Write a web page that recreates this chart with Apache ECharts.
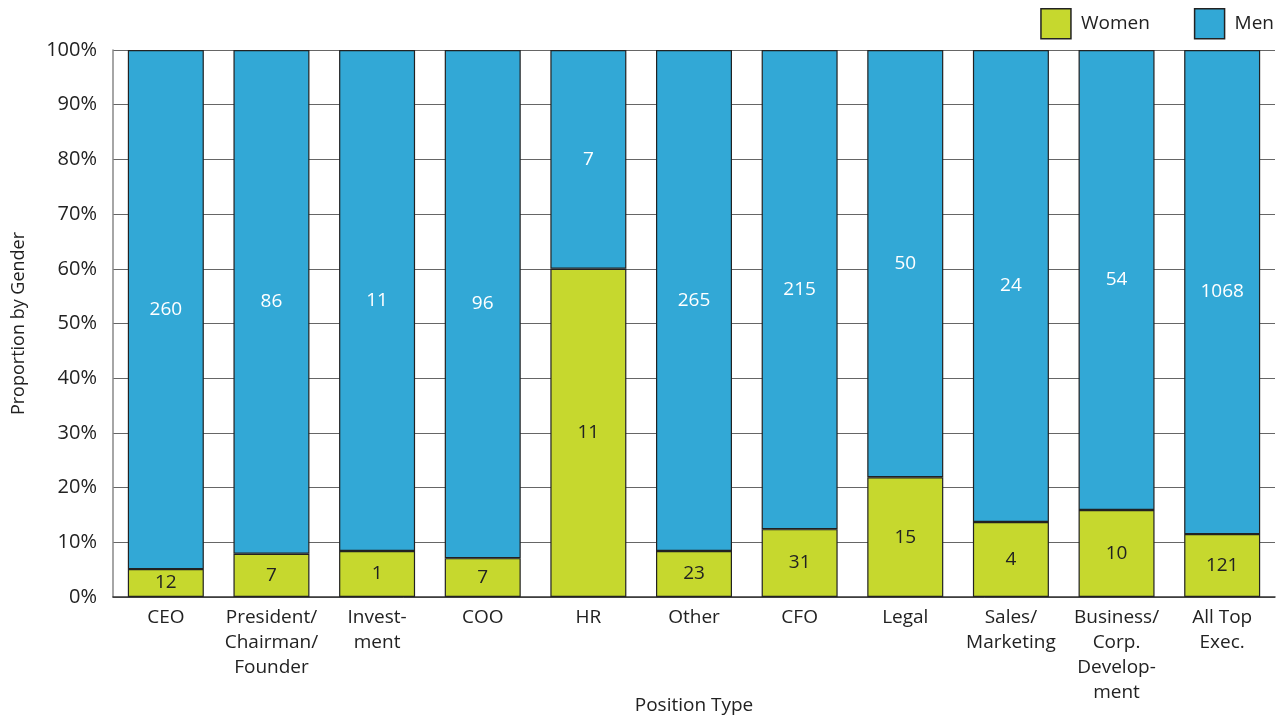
<!DOCTYPE html>
<html>
<head>
<meta charset="utf-8">
<script src="https://cdn.jsdelivr.net/npm/echarts@6/dist/echarts.min.js"></script>
<style>
  html, body { margin: 0; padding: 0; background: #fff; }
  #chart { width: 1283px; height: 719px; }
</style>
</head>
<body>
<div id="chart"></div>
<script>
// categories (line breaks as in the original)
const positions = [
  'CEO', 'President/\nChairman/\nFounder', 'Invest-\nment', 'COO', 'HR', 'Other',
  'CFO', 'Legal', 'Sales/\nMarketing', 'Business/\nCorp.\nDevelop-\nment', 'All Top\nExec.'
];

// share of each gender in %
const womenShare = [5.1, 7.9, 8.4, 7.1, 60.0, 8.4, 12.4, 21.9, 13.7, 15.9, 11.5];
const menShare   = [94.9, 92.1, 91.6, 92.9, 40.0, 91.6, 87.6, 78.1, 86.3, 84.1, 88.5];

// head counts printed on the bars
const womenCount = [12, 7, 1, 7, 11, 23, 31, 15, 4, 10, 121];
const menCount   = [260, 86, 11, 96, 7, 265, 215, 50, 24, 54, 1068];

const FONT = '"Open Sans", "Noto Sans", sans-serif';

const chart = echarts.init(document.getElementById('chart'));

chart.setOption({
  animation: false,
  color: ['#c6d82e', '#32a8d6'],
  textStyle: { fontFamily: FONT },
  legend: {
    top: 3,
    right: 4,
    itemWidth: 30,
    itemHeight: 30,
    itemGap: 44,
    icon: 'rect',
    textStyle: { fontSize: 19, color: '#222', fontFamily: FONT, padding: [0, 0, 0, 5] },
    itemStyle: { borderColor: '#222', borderWidth: 1.5 },
    data: ['Women', 'Men']
  },
  grid: { left: 113, right: 8, top: 50, bottom: 122, outerBoundsMode: 'none' },
  xAxis: {
    type: 'category',
    data: positions,
    name: 'Position Type',
    nameLocation: 'middle',
    nameGap: 99,
    nameMoveOverlap: false,
    nameTextStyle: { fontSize: 19, color: '#222', fontFamily: FONT },
    axisTick: { show: false },
    axisLine: { lineStyle: { color: '#333', width: 1.5 } },
    axisLabel: {
      fontSize: 19, color: '#222', fontFamily: FONT,
      lineHeight: 25, margin: 8, interval: 0
    }
  },
  yAxis: {
    type: 'value',
    min: 0,
    max: 100,
    interval: 10,
    name: 'Proportion by Gender',
    nameLocation: 'middle',
    nameGap: 85,
    nameTextStyle: { fontSize: 18, color: '#222', fontFamily: FONT },
    axisLine: { show: true, lineStyle: { color: '#888', width: 1.5 } },
    axisTick: { show: false },
    splitLine: { lineStyle: { color: '#666', width: 1 } },
    axisLabel: {
      formatter: '{value}%', fontSize: 20, color: '#222', fontFamily: FONT, margin: 16
    }
  },
  series: [
    {
      name: 'Women',
      type: 'bar',
      stack: 'g',
      barWidth: 76,
      data: womenShare,
      itemStyle: { borderColor: '#222', borderWidth: 1.2 },
      label: {
        show: true,
        position: 'inside',
        fontSize: 19,
        color: '#222',
        fontFamily: FONT,
        formatter: p => womenCount[p.dataIndex]
      }
    },
    {
      name: 'Men',
      type: 'bar',
      stack: 'g',
      barWidth: 76,
      data: menShare,
      itemStyle: { borderColor: '#222', borderWidth: 1.2 },
      label: {
        show: true,
        position: 'inside',
        fontSize: 19,
        color: '#fff',
        fontFamily: FONT,
        formatter: p => menCount[p.dataIndex]
      }
    }
  ]
});
</script>
</body>
</html>
